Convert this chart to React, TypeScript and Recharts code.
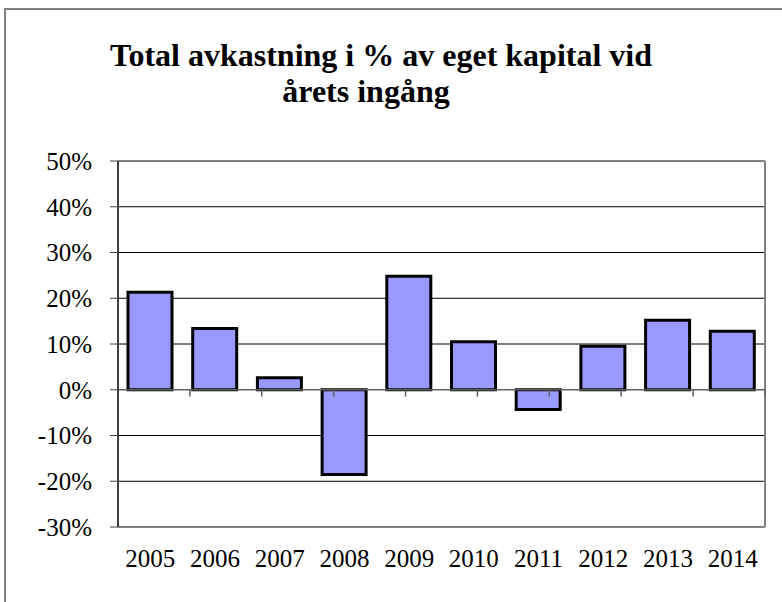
import { BarChart, Bar, XAxis, YAxis, CartesianGrid, ReferenceLine } from 'recharts'

// Years on the category axis
const years = ['2005', '2006', '2007', '2008', '2009', '2010', '2011', '2012', '2013', '2014']

// Total return in % of equity at start of year
const returns = [21.3, 13.4, 2.6, -18.5, 24.8, 10.5, -4.3, 9.5, 15.2, 12.8]

const yTicks = [-30, -20, -10, 0, 10, 20, 30, 40, 50]
const innerGrid = [40, 30, 20, 10, -10, -20]
// boundaries between categories, where the small ticks sit on the zero line
const dividers = [1, 2, 3, 4, 5, 6, 7, 8, 9, 10]

const titleLines = ['Total avkastning i % av eget kapital vid', 'årets ingång']

const data = years.map((year, i) => ({ year, value: returns[i] }))

const serif = 'Liberation Serif'

export default function App() {
  return (
    <div style={{ position: 'absolute', left: 0, top: 0, width: 782, height: 602, overflow: 'hidden', background: '#fff' }}>
      {/* outer chart frame */}
      <div
        style={{
          position: 'absolute',
          left: 4,
          top: 8,
          width: 900,
          height: 800,
          border: '2px solid #808080',
          boxSizing: 'border-box'
        }}
      />
      <div style={{ position: 'absolute', left: 0, top: 0 }}>
        <BarChart width={782} height={602} data={data} margin={{ top: 161, right: 17, bottom: 0, left: 0 }}>
          <CartesianGrid vertical={false} stroke="#000" strokeWidth={1} horizontalValues={innerGrid} />
          {/* plot area frame: top, bottom and right edges */}
          <CartesianGrid
            stroke="#808080"
            strokeWidth={2}
            horizontalCoordinatesGenerator={(p: any) => (p && p.offset ? [p.offset.top, p.offset.top + p.offset.height] : [])}
            verticalCoordinatesGenerator={(p: any) => (p && p.offset ? [p.offset.left + p.offset.width] : [])}
          />
          <XAxis
            dataKey="year"
            axisLine={false}
            tickLine={false}
            tickSize={0}
            tickMargin={22}
            height={75}
            interval={0}
            tick={{ fill: '#000', fontSize: 25, fontFamily: serif }}
          />
          <XAxis xAxisId="grid" type="number" domain={[0, 10]} allowDataOverflow hide />
          <YAxis
            domain={[-30, 50]}
            ticks={yTicks}
            allowDataOverflow
            width={118}
            tickSize={8}
            tickMargin={18}
            tickFormatter={(v: number) => `${v}%`}
            axisLine={{ stroke: '#404040', strokeWidth: 2 }}
            tickLine={{ stroke: '#404040', strokeWidth: 1 }}
            tick={{ fill: '#000', fontSize: 25, fontFamily: serif }}
          />
          <ReferenceLine y={0} stroke="#606060" strokeWidth={1.5} />
          {dividers.map((d) => (
            <ReferenceLine
              key={d}
              xAxisId="grid"
              segment={[{ x: d, y: 0 }, { x: d, y: -1.5 }]}
              stroke="#606060"
              strokeWidth={1.5}
            />
          ))}
          <Bar dataKey="value" fill="#9999FF" stroke="#000" strokeWidth={3} barSize={44} isAnimationActive={false} />
        </BarChart>
      </div>
      <svg width={782} height={140} style={{ position: 'absolute', left: 0, top: 0, pointerEvents: 'none' }}>
        <text x={381} y={66} textAnchor="middle" fontFamily={serif} fontWeight="bold" fontSize={32} fill="#000">
          {titleLines[0]}
        </text>
        <text x={366} y={102} textAnchor="middle" fontFamily={serif} fontWeight="bold" fontSize={32} fill="#000">
          {titleLines[1]}
        </text>
      </svg>
    </div>
  )
}
